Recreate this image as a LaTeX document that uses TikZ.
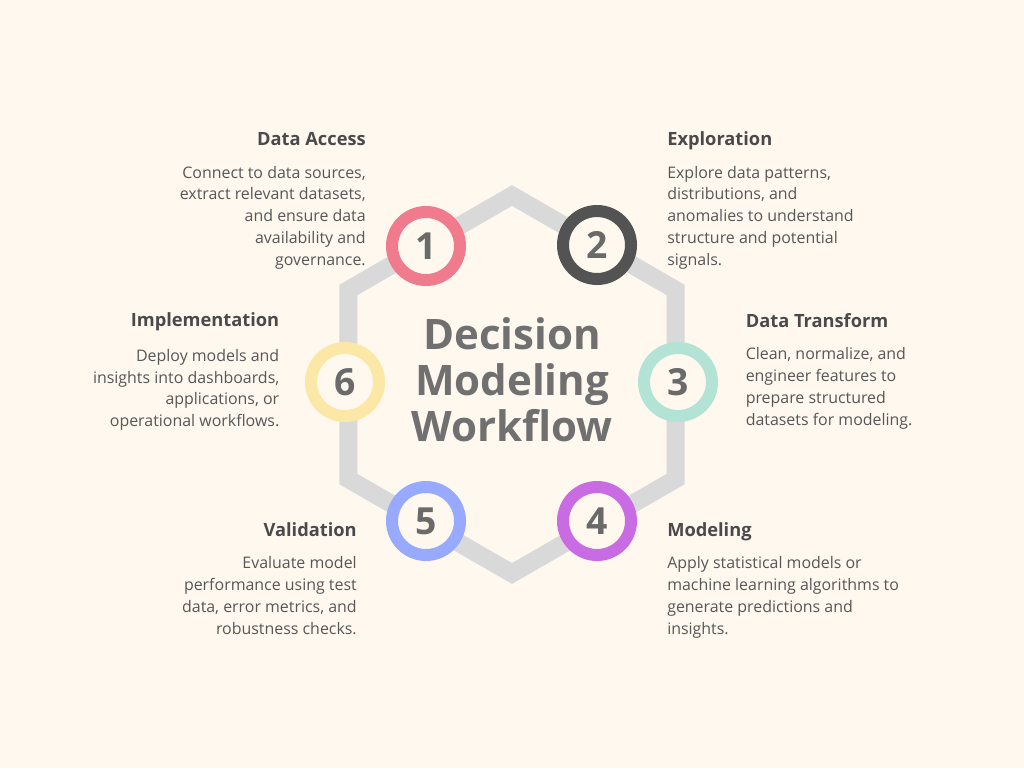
\documentclass[tikz,border=0pt]{standalone}
\usepackage{fontspec}
\setmainfont{Open Sans}
\begin{document}
\begin{tikzpicture}[x=0.75pt,y=-0.75pt,
  ring/.style={circle,minimum size=68*0.75pt,line width=9pt,fill=bgcol,inner sep=0pt,
     text=digitcol,font=\fontsize{28}{28}\selectfont\bfseries},
  head/.style={inner sep=0pt,text=headcol,font=\fontsize{13.7}{16}\selectfont\bfseries},
  body/.style={inner sep=0pt,text=bodycol,font=\fontsize{11.95}{16.3}\selectfont},
  title/.style={inner sep=0pt,text=titlecol,align=center,font=\fontsize{31.5}{34.5}\selectfont\bfseries}]
\definecolor{bgcol}{HTML}{FEF8EF}
\definecolor{hexcol}{HTML}{D9D9D9}
\definecolor{digitcol}{HTML}{6A6A6A}
\definecolor{titlecol}{HTML}{707070}
\definecolor{headcol}{HTML}{4A4A4A}
\definecolor{bodycol}{HTML}{575757}
\definecolor{c1}{HTML}{EF7B8C}
\definecolor{c2}{HTML}{535353}
\definecolor{c3}{HTML}{B3E3D4}
\definecolor{c4}{HTML}{C96CE3}
\definecolor{c5}{HTML}{97AAFF}
\definecolor{c6}{HTML}{FCE8A6}
\fill[bgcol] (0,0) rectangle (1024,768);
\useasboundingbox (0,0) rectangle (1024,768);
% hexagon
\coordinate (h1) at (512,195.5);
\coordinate (h2) at (675.7,290);
\coordinate (h3) at (675.7,479);
\coordinate (h4) at (512,573.5);
\coordinate (h5) at (348.3,479);
\coordinate (h6) at (348.3,290);
\draw[hexcol,line width=13.5pt,line join=miter] (h1)--(h2)--(h3)--(h4)--(h5)--(h6)--cycle;
% rings
\node[ring,draw=c1] (n1) at (426,246) {1};
\node[ring,draw=c2] (n2) at (597,245) {2};
\node[ring,draw=c3] (n3) at (678,382) {3};
\node[ring,draw=c4] (n4) at (597,521) {4};
\node[ring,draw=c5] (n5) at (426,521) {5};
\node[ring,draw=c6] (n6) at (345,382) {6};
% title (anchor base = last line baseline)
\node[title,anchor=base] (t) at (512,441.7) {Decision\\Modeling\\Workflow};
% texts
\node[head,anchor=base east] (a1) at (366,145) {Data Access};
\node[body,anchor=base east,align=right] (b1) at (366,265.1) {Connect to data sources,\\extract relevant datasets,\\and ensure data\\availability and\\governance.};
\node[head,anchor=base west] (a2) at (667,145) {Exploration};
\node[body,anchor=base west,align=left] (b2) at (667,265.1) {Explore data patterns,\\distributions, and\\anomalies to understand\\structure and potential\\signals.};
\node[head,anchor=base west] (a3) at (745.5,327) {Data Transform};
\node[body,anchor=base west,align=left] (b3) at (745.5,425.1) {Clean, normalize, and\\engineer features to\\prepare structured\\datasets for modeling.};
\node[head,anchor=base west] (a4) at (667,536) {Modeling};
\node[body,anchor=base west,align=left] (b4) at (667,634.1) {Apply statistical models or\\machine learning algorithms to\\generate predictions and\\insights.};
\node[head,anchor=base east] (a5) at (357,536) {Validation};
\node[body,anchor=base east,align=right] (b5) at (357,634.1) {Evaluate model\\performance using test\\data, error metrics, and\\robustness checks.};
\node[head,anchor=base east] (a6) at (279.5,326) {Implementation};
\node[body,anchor=base east,align=right] (b6) at (279.5,426.6) {Deploy models and\\insights into dashboards,\\applications, or\\operational workflows.};
\end{tikzpicture}
\end{document}
